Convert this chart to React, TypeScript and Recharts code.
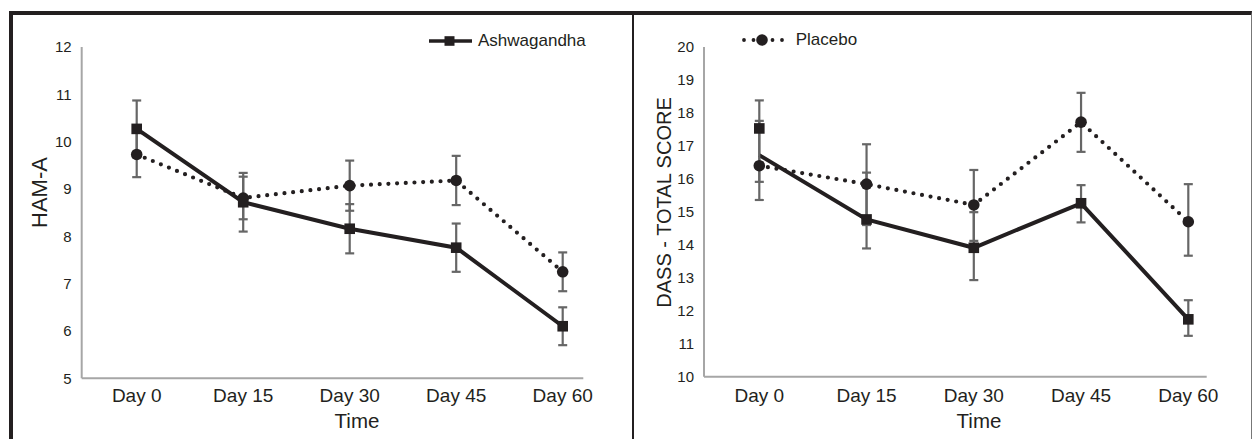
import React from 'react';
import { LineChart, Line, XAxis, YAxis, ErrorBar, Legend } from 'recharts';

// categories
const days = ['Day 0', 'Day 15', 'Day 30', 'Day 45', 'Day 60'];

// HAM-A panel
const hamTicks = [5, 6, 7, 8, 9, 10, 11, 12];
const hamAsh = [10.27, 8.72, 8.16, 7.76, 6.1];
const hamAshErr = [0.6, 0.62, 0.52, 0.51, 0.4];
const hamPlacebo = [9.73, 8.81, 9.07, 9.18, 7.25];
const hamPlaceboErr = [0.48, 0.45, 0.53, 0.52, 0.41];

// DASS panel (the Day 0 square sits above where the solid line starts)
const dassTicks = [10, 11, 12, 13, 14, 15, 16, 17, 18, 19, 20];
const dassAshLine = [16.72, 14.77, 13.91, 15.26, 11.74];
const dassAsh = [17.53, 14.77, 13.91, 15.26, 11.74];
const dassAshErr = [[1.62, 0.85], [0.88, 1.42], [0.98, 1.08], [0.58, 0.55], [0.5, 0.58]];
const dassPlacebo = [16.4, 15.84, 15.21, 17.72, 14.7];
const dassPlaceboErr = [[1.04, 1.36], [1.24, 1.21], [1.09, 1.06], [0.9, 0.89], [1.03, 1.14]];

const INK = '#231f20';
const AXIS = '#a6a6a6';
const ERR = '#666666';
const FONT = '"Liberation Sans", Arial, sans-serif';

const hamRows = days.map((day, i) => ({
  day,
  ashLine: hamAsh[i],
  ash: hamAsh[i],
  ashErr: hamAshErr[i],
  placebo: hamPlacebo[i],
  placeboErr: hamPlaceboErr[i],
}));

const dassRows = days.map((day, i) => ({
  day,
  ashLine: dassAshLine[i],
  ash: dassAsh[i],
  ashErr: dassAshErr[i],
  placebo: dassPlacebo[i],
  placeboErr: dassPlaceboErr[i],
}));

const squareDot = (props: any) => {
  const { cx, cy, index } = props;
  if (cx == null || cy == null) return <g key={`sq-${index}`} />;
  return <rect key={`sq-${index}`} x={cx - 5.3} y={cy - 5.3} width={10.6} height={10.6} fill={INK} />;
};

function LegendKey({ name }: { name: string }) {
  const isAsh = name === 'Ashwagandha';
  return (
    <div style={{ display: 'flex', alignItems: 'center', fontFamily: FONT, fontSize: 17, color: INK, whiteSpace: 'nowrap' }}>
      <svg width={isAsh ? 44 : 46} height={14} style={{ marginRight: isAsh ? 5 : 8 }}>
        {isAsh ? (
          <>
            <line x1={0} y1={7} x2={43} y2={7} stroke={INK} strokeWidth={3.5} />
            <rect x={15.5} y={2.2} width={10} height={9.6} fill={INK} />
          </>
        ) : (
          <>
            <line x1={2} y1={7} x2={44} y2={7} stroke={INK} strokeWidth={3.8} strokeDasharray="0 9.5" strokeLinecap="round" />
            <circle cx={20} cy={7} r={5.8} fill={INK} />
          </>
        )}
      </svg>
      <span>{name}</span>
    </div>
  );
}

type PanelProps = {
  rows: any[];
  ticks: number[];
  width: number;
  margin: { top: number; right: number; bottom: number; left: number };
  padding: { left: number; right: number };
  tickMargin: number;
  yTitle: string;
  yTitleX: number;
  yTitleY: number;
  yTitleSize: number;
  timeX: number;
  legendName: string;
  legendLeft: number;
  legendTop: number;
};

function Panel(p: PanelProps) {
  return (
    <LineChart width={p.width} height={439} data={p.rows} margin={p.margin}>
      <XAxis
        dataKey="day"
        padding={p.padding}
        axisLine={{ stroke: AXIS, strokeWidth: 2 }}
        tickLine={false}
        tickSize={0}
        tickMargin={p.tickMargin}
        height={60}
        tick={{ fill: INK, fontSize: 19, fontFamily: FONT }}
        label={{
          content: () => (
            <text x={p.timeX} y={428.3} textAnchor="middle" fill={INK} fontSize={20.5} fontFamily={FONT}>
              Time
            </text>
          ),
        }}
      />
      <YAxis
        domain={[p.ticks[0], p.ticks[p.ticks.length - 1]]}
        ticks={p.ticks}
        interval={0}
        width={50}
        axisLine={{ stroke: AXIS, strokeWidth: 2 }}
        tickLine={false}
        tickSize={0}
        tickMargin={10}
        tick={{ fill: INK, fontSize: 15, fontFamily: FONT }}
        label={{
          content: () => (
            <text
              x={p.yTitleX}
              y={p.yTitleY}
              transform={`rotate(-90, ${p.yTitleX}, ${p.yTitleY})`}
              textAnchor="middle"
              fill={INK}
              fontSize={p.yTitleSize}
              fontFamily={FONT}
            >
              {p.yTitle}
            </text>
          ),
        }}
      />
      <Legend
        layout="vertical"
        align="center"
        verticalAlign="middle"
        wrapperStyle={{ left: p.legendLeft, top: p.legendTop, width: 'auto' }}
        content={(props: any) => (
          <div>
            {(props.payload || [])
              .filter((e: any) => e.value === p.legendName)
              .map((e: any) => (
                <LegendKey key={e.value} name={e.value} />
              ))}
          </div>
        )}
      />
      <Line
        dataKey="placebo"
        name="Placebo"
        stroke={INK}
        strokeWidth={4.2}
        strokeDasharray="0 8.7"
        strokeLinecap="round"
        dot={{ r: 5.8, fill: INK, stroke: 'none', strokeWidth: 0, strokeDasharray: 'none' }}
        isAnimationActive={false}
      >
        <ErrorBar dataKey="placeboErr" direction="y" width={4.5} stroke={ERR} strokeWidth={2.2} />
      </Line>
      <Line
        dataKey="ashLine"
        name="Ashwagandha"
        stroke={INK}
        strokeWidth={4}
        dot={false}
        isAnimationActive={false}
      />
      <Line
        dataKey="ash"
        name="Ashwagandha marker"
        legendType="none"
        stroke="none"
        dot={squareDot}
        isAnimationActive={false}
      >
        <ErrorBar dataKey="ashErr" direction="y" width={4.5} stroke={ERR} strokeWidth={2.2} />
      </Line>
    </LineChart>
  );
}

export default function App() {
  return (
    <div style={{ position: 'absolute', left: 0, top: 0, width: 1253, height: 439, background: '#fff', overflow: 'hidden', fontFamily: FONT }}>
      <div style={{ position: 'absolute', left: 0, top: 0 }}>
        <Panel
          rows={hamRows}
          ticks={hamTicks}
          width={626}
          margin={{ top: 47, right: 42.7, bottom: 0.7, left: 31.7 }}
          padding={{ left: 55, right: 20.6 }}
          tickMargin={10}
          yTitle="HAM-A"
          yTitleX={46.7}
          yTitleY={192.5}
          yTitleSize={22}
          timeX={357}
          legendName="Ashwagandha"
          legendLeft={429}
          legendTop={31}
        />
      </div>
      <div style={{ position: 'absolute', left: 634, top: 0 }}>
        <Panel
          rows={dassRows}
          ticks={dassTicks}
          width={619}
          margin={{ top: 47, right: 46.3, bottom: 2.3, left: 20 }}
          padding={{ left: 55.3, right: 18.4 }}
          tickMargin={11.5}
          yTitle="DASS - TOTAL SCORE"
          yTitleX={36.5}
          yTitleY={202.5}
          yTitleSize={20}
          timeX={345}
          legendName="Placebo"
          legendLeft={107.7}
          legendTop={30}
        />
      </div>
      <div
        style={{
          position: 'absolute',
          left: 9.3,
          top: 10.5,
          width: 1252 - 9.3,
          height: 440,
          boxSizing: 'border-box',
          borderTop: `4px solid ${INK}`,
          borderLeft: `4px solid ${INK}`,
          borderRight: '1.5px solid #777',
          pointerEvents: 'none',
        }}
      />
      <div style={{ position: 'absolute', left: 631.5, top: 10.5, width: 2.5, height: 440, background: INK }} />
    </div>
  );
}
